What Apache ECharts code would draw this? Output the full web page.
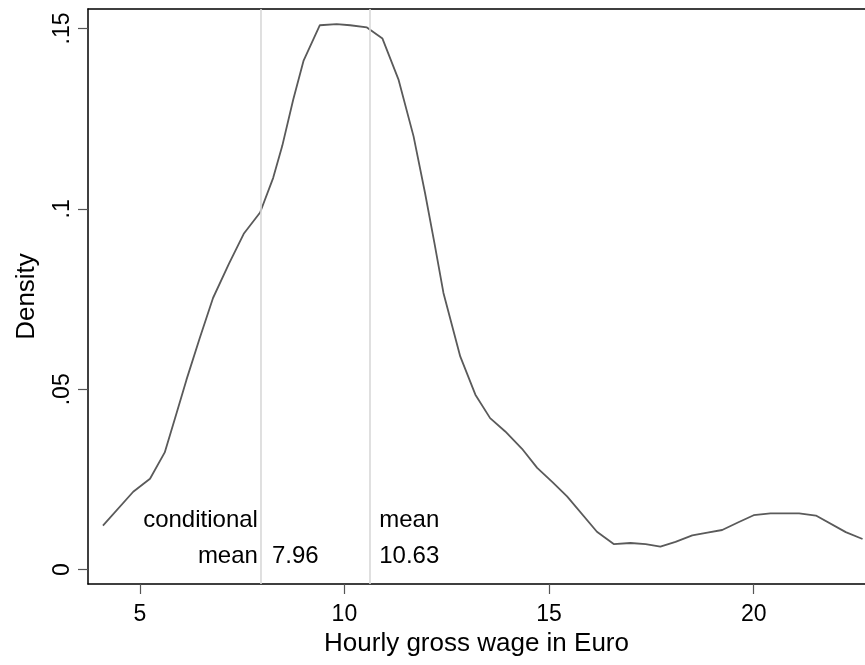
<!DOCTYPE html>
<html>
<head>
<meta charset="utf-8">
<script src="https://cdn.jsdelivr.net/npm/echarts@6/dist/echarts.min.js"></script>
<style>html,body{margin:0;padding:0;background:#fff;}#c{width:865px;height:665px;}</style>
</head>
<body>
<div id="c"></div>
<script>
// Kernel density estimate of hourly gross wage
const wageX = [4.10, 4.84, 5.25, 5.61, 5.90, 6.14, 6.46, 6.79, 7.18, 7.54, 7.94, 8.26, 8.48, 8.75, 9.00, 9.40, 9.81, 10.14, 10.55, 10.93, 11.32, 11.69, 11.97, 12.20, 12.42, 12.83, 13.20, 13.56, 13.93, 14.34, 14.71, 15.09, 15.44, 16.17, 16.58, 16.99, 17.36, 17.72, 18.09, 18.50, 18.87, 19.23, 19.64, 20.00, 20.41, 21.11, 21.52, 22.25, 22.66];
const densityY = [0.0122, 0.0216, 0.0252, 0.0325, 0.0434, 0.0526, 0.0640, 0.0753, 0.0848, 0.0931, 0.0990, 0.1086, 0.1174, 0.1303, 0.1410, 0.1509, 0.1512, 0.1509, 0.1503, 0.1472, 0.1359, 0.1201, 0.1044, 0.0905, 0.0767, 0.0591, 0.0485, 0.0420, 0.0383, 0.0335, 0.0282, 0.0242, 0.0203, 0.0105, 0.0071, 0.0074, 0.0071, 0.0064, 0.0077, 0.0095, 0.0103, 0.0110, 0.0132, 0.0151, 0.0156, 0.0156, 0.0150, 0.0104, 0.0085];
const meanValues = [7.96, 10.63];
const xTicks = [5, 10, 15, 20];
const yTicks = [0, 0.05, 0.1, 0.15];
const yTickLabels = ['0', '.05', '.1', '.15'];
const annoX = [7.96, 7.96, 7.96, 10.63, 10.63];
const annoY = [0.0138, 0.0036, 0.0036, 0.0138, 0.0036];
const annoText = ['conditional', 'mean', '7.96', 'mean', '10.63'];
const annoSide = ['left', 'left', 'right', 'right', 'right'];

const chart = echarts.init(document.getElementById('c'), null, {renderer: 'canvas'});
const FONT = 'Liberation Sans, Arial, sans-serif';
const X_MIN = 3.735, X_MAX = 22.72;
const annoData = annoX.map((x, i) => ({
  value: [x, annoY[i]],
  label: {
    show: true,
    position: annoSide[i],
    distance: annoSide[i] === 'left' ? 3 : (i === 2 ? 11 : 9),
    formatter: annoText[i],
    fontSize: 24, color: '#000', fontFamily: FONT, opacity: 1
  }
}));
chart.setOption({
  animation: false,
  backgroundColor: '#fff',
  grid: {left: 88, top: 9, right: 0, bottom: 81, show: false},
  xAxis: [{
    type: 'value', min: X_MIN, max: X_MAX, interval: 5,
    name: 'Hourly gross wage in Euro', nameLocation: 'middle', nameGap: 47,
    nameTextStyle: {fontSize: 26, color: '#000', fontFamily: FONT},
    axisLine: {show: true, onZero: false, lineStyle: {color: '#000', width: 1.5}},
    axisTick: {show: true, length: 10, lineStyle: {color: '#555', width: 1.2},
      customValues: xTicks},
    axisLabel: {fontSize: 23, color: '#000', fontFamily: FONT, margin: 19,
      customValues: xTicks},
    splitLine: {show: false}
  }, {
    type: 'value', min: X_MIN, max: X_MAX, position: 'top',
    axisLine: {show: true, onZero: false, lineStyle: {color: '#000', width: 1.5}},
    axisTick: {show: false}, axisLabel: {show: false}, splitLine: {show: false}
  }],
  yAxis: {
    type: 'value', min: -0.00397, max: 0.1554,
    name: 'Density', nameLocation: 'middle', nameGap: 48,
    nameTextStyle: {fontSize: 26, color: '#000', fontFamily: FONT},
    axisLine: {show: true, onZero: false, lineStyle: {color: '#000', width: 1.5}},
    axisTick: {show: true, length: 10, lineStyle: {color: '#555', width: 1.2},
      customValues: yTicks},
    axisLabel: {fontSize: 23, color: '#000', fontFamily: FONT, margin: 14, rotate: 90,
      customValues: yTicks,
      formatter: v => { const i = yTicks.findIndex(t => Math.abs(t - v) < 1e-9); return i >= 0 ? yTickLabels[i] : ''; }},
    splitLine: {show: false}
  },
  series: [
    {
      type: 'line',
      data: wageX.map((x, i) => [x, densityY[i]]),
      showSymbol: false,
      lineStyle: {color: '#5a5a5a', width: 1.8},
      z: 3,
      markLine: {
        silent: true, symbol: 'none', animation: false,
        label: {show: false},
        lineStyle: {color: '#d8d8d8', width: 1.6, type: 'solid'},
        data: meanValues.map(v => ({xAxis: v}))
      }
    },
    {
      type: 'scatter',
      data: annoData,
      symbolSize: 0,
      silent: true,
      itemStyle: {opacity: 1, color: '#000'},
      label: {show: true, fontSize: 24, color: '#000', fontFamily: FONT, textBorderWidth: 0}
    }
  ]
});
</script>
</body>
</html>
